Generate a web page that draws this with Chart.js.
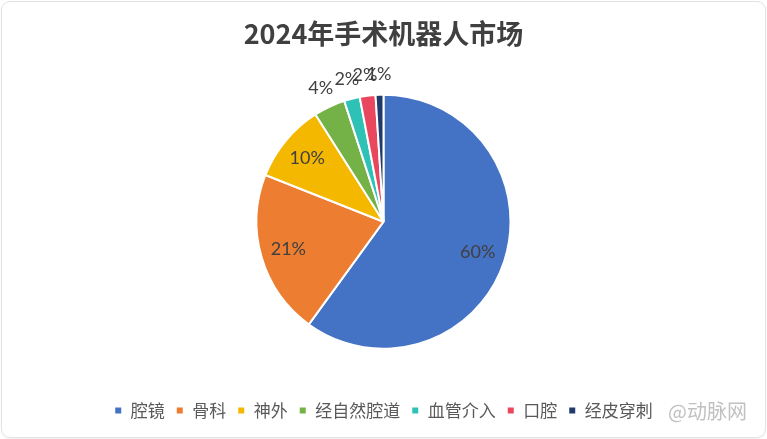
<!DOCTYPE html>
<html>
<head>
<meta charset="utf-8">
<script src="https://cdn.jsdelivr.net/npm/chart.js@4.4.1/dist/chart.umd.min.js"></script>
<style>
  html, body { margin: 0; padding: 0; background: #ffffff; }
  #wrap { position: relative; width: 767px; height: 439px; overflow: hidden; }
  #frame { position: absolute; left: 1px; top: 1px; width: 763px; height: 435px; border: 1px solid #e2e2e2; border-radius: 9px; pointer-events: none; box-shadow: 0 1px 2px rgba(0,0,0,0.06); }
  #wm { position: absolute; left: 668px; top: 396px; font: 20px "Noto Sans CJK SC", sans-serif; color: rgba(140,140,140,0.55); pointer-events: none; }
</style>
</head>
<body>
<div id="wrap">
  <canvas id="c" width="767" height="439"></canvas>
  <div id="frame"></div>
  <div id="wm">@动脉网</div>
</div>
<script>
const titleText = '2024年手术机器人市场';
const categories = ['腔镜', '骨科', '神外', '经自然腔道', '血管介入', '口腔', '经皮穿刺'];
const values = [60, 21, 10, 4, 2, 2, 1];
const colors = ['#4472C4', '#ED7D31', '#F5B800', '#74B147', '#2EC1B5', '#E8475E', '#1F3A6B'];

const pctLabels = {
  id: 'pctLabels',
  afterDatasetsDraw(chart) {
    const ctx = chart.ctx;
    const meta = chart.getDatasetMeta(0);
    const total = values.reduce((a, b) => a + b, 0);
    ctx.save();
    ctx.font = '18px Lato';
    ctx.fillStyle = '#404040';
    ctx.textAlign = 'center';
    ctx.textBaseline = 'middle';
    meta.data.forEach((arc, i) => {
      const p = arc.getProps(['x', 'y', 'startAngle', 'endAngle', 'outerRadius'], true);
      const mid = (p.startAngle + p.endAngle) / 2;
      const pct = values[i] / total * 100;
      const r = pct >= 8 ? p.outerRadius * 0.78 : p.outerRadius * 1.16;
      ctx.fillText(Math.round(pct) + '%', p.x + Math.cos(mid) * r, p.y + Math.sin(mid) * r);
    });
    ctx.restore();
  }
};

new Chart(document.getElementById('c'), {
  type: 'pie',
  data: {
    labels: categories,
    datasets: [{
      data: values,
      backgroundColor: colors,
      borderColor: '#ffffff',
      borderWidth: 2,
      radius: 127
    }]
  },
  options: {
    responsive: false,
    animation: false,
    layout: { padding: { top: 0, bottom: 10, left: 0, right: 0 } },
    plugins: {
      title: {
        display: true,
        text: titleText,
        color: '#404040',
        font: { family: '"Noto Sans CJK SC", sans-serif', size: 27, weight: 'bold' },
        padding: { top: 18, bottom: 2 }
      },
      legend: {
        position: 'bottom',
        labels: {
          color: '#595959',
          font: { family: '"Noto Sans CJK SC", sans-serif', size: 17 },
          boxWidth: 8,
          boxHeight: 8,
          padding: 11
        }
      },
      tooltip: { enabled: false }
    }
  },
  plugins: [pctLabels]
});
</script>
</body>
</html>
